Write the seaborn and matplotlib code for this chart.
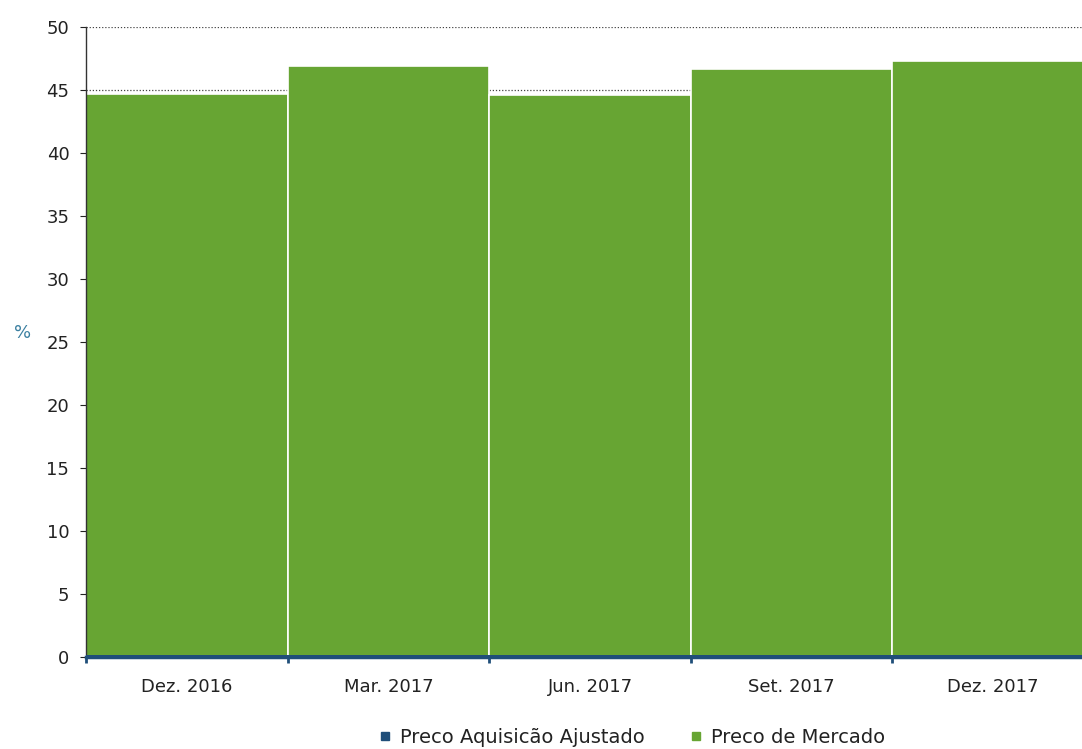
import numpy as np
import pandas as pd
import matplotlib.pyplot as plt
import seaborn as sns
from matplotlib.lines import Line2D

# Data
periods = ["Dez. 2016", "Mar. 2017", "Jun. 2017", "Set. 2017", "Dez. 2017"]
preco_mercado = [44.7, 46.9, 44.6, 46.7, 47.3]
preco_aquisicao = [0.2, 0.2, 0.2, 0.2, 0.2]

GREEN = "#67a533"
BLUE = "#1f4e79"

sns.set_theme(style="white")
plt.rcParams["font.family"] = ["DejaVu Sans"]

df = pd.DataFrame({"periodo": periods,
                   "mercado": preco_mercado,
                   "aquisicao": preco_aquisicao})

fig = plt.figure(figsize=(10.82, 7.49), dpi=100)
ax = fig.add_axes([0.0795, 0.1228, 0.9316, 0.8411])

# dotted gridlines behind the bars
ax.set_axisbelow(True)
ax.yaxis.grid(True, linestyle=(0, (1, 1.5)), color="#444444", linewidth=0.9)

sns.barplot(data=df, x="periodo", y="mercado", color=GREEN, width=1.0,
            edgecolor="white", linewidth=1.2, saturation=1, ax=ax, zorder=2)
sns.barplot(data=df, x="periodo", y="aquisicao", color=BLUE, width=1.0,
            linewidth=0, saturation=1, ax=ax, zorder=3)

ax.set_xlim(-0.5, 4.5)
ax.set_ylim(0, 50)
ax.set_yticks(np.arange(0, 51, 5))
ax.tick_params(axis="y", labelsize=13, colors="#222222", length=4, width=0.8,
               left=True, pad=8)
ax.tick_params(axis="x", labelsize=13, colors="#222222", length=0, pad=15)
ax.set_xticks(np.arange(-0.5, 5, 1), minor=True)
ax.tick_params(axis="x", which="minor", bottom=True, length=4, width=2, color=BLUE)
ax.set_xlabel("")
ax.set_ylabel("%", rotation=0, fontsize=13, color="#3a7fa0")
ax.yaxis.set_label_coords(-0.063, 0.5)

for side in ["top", "right"]:
    ax.spines[side].set_visible(False)
ax.spines["left"].set_color("#333333")
ax.spines["left"].set_linewidth(1)
ax.spines["bottom"].set_color(BLUE)
ax.spines["bottom"].set_linewidth(2.5)

handles = [Line2D([0], [0], marker="s", linestyle="", markersize=6,
                  markerfacecolor=BLUE, markeredgecolor=BLUE),
           Line2D([0], [0], marker="s", linestyle="", markersize=6,
                  markerfacecolor=GREEN, markeredgecolor=GREEN)]
fig.legend(handles, ["Preco Aquisicão Ajustado", "Preco de Mercado"],
           loc="center", bbox_to_anchor=(0.578, 0.015), ncol=2, frameon=False,
           fontsize=14, handletextpad=-0.2, columnspacing=1.6, labelcolor="#222222")

fig.savefig("out.png", dpi=100)
